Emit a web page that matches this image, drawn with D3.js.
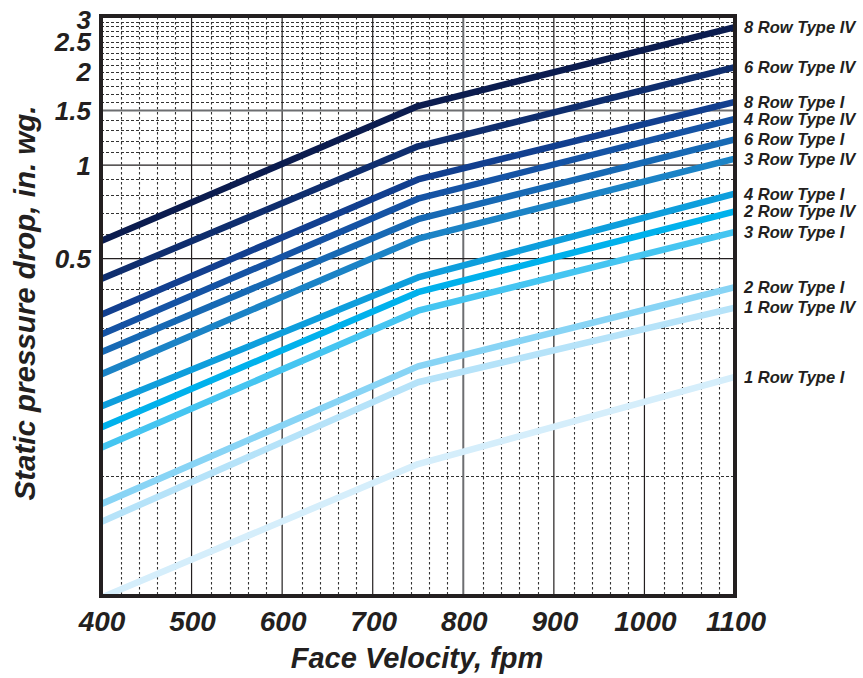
<!DOCTYPE html>
<html>
<head>
<meta charset="utf-8">
<script src="https://cdn.jsdelivr.net/npm/d3@7"></script>
<style>
  html, body { margin: 0; padding: 0; background: #ffffff; }
  svg text { font-family: "Liberation Sans", Arial, sans-serif; font-weight: bold; font-style: italic; fill: #231f20; }
</style>
</head>
<body>
<svg id="chart" width="863" height="678"></svg>
<script>
// Face velocities where each coil curve is defined (fpm)
const velocities = [400, 750, 1100];

// Coil names, top to bottom
const seriesNames = [
  "8 Row Type IV", "6 Row Type IV", "8 Row Type I", "4 Row Type IV",
  "6 Row Type I", "3 Row Type IV", "4 Row Type I", "2 Row Type IV",
  "3 Row Type I", "2 Row Type I", "1 Row Type IV", "1 Row Type I"
];

// Static pressure drop (in. wg.) at 400, 750 and 1100 fpm
const row8TypeIV = [0.57, 1.55, 2.78];
const row6TypeIV = [0.43, 1.15, 2.07];
const row8TypeI  = [0.33, 0.90, 1.60];
const row4TypeIV = [0.285, 0.78, 1.41];
const row6TypeI  = [0.25, 0.67, 1.21];
const row3TypeIV = [0.212, 0.58, 1.05];
const row4TypeI  = [0.167, 0.435, 0.81];
const row2TypeIV = [0.143, 0.39, 0.71];
const row3TypeI  = [0.123, 0.34, 0.61];
const row2TypeI  = [0.081, 0.225, 0.405];
const row1TypeIV = [0.071, 0.20, 0.348];
const row1TypeI  = [0.0405, 0.109, 0.208];

const seriesValues = [
  row8TypeIV, row6TypeIV, row8TypeI, row4TypeIV, row6TypeI, row3TypeIV,
  row4TypeI, row2TypeIV, row3TypeI, row2TypeI, row1TypeIV, row1TypeI
];

const seriesColors = [
  "#0b1c4f", "#0f2e6e", "#123f8f", "#1553a4", "#1769b4", "#1b83c6",
  "#0e9edc", "#00b1ec", "#45c5f1", "#88d4f5", "#b6e3f9", "#d5eefb"
];

// Axis ticks
const xTicks = [400, 500, 600, 700, 800, 900, 1000, 1100];
const yTickLabels = [0.5, 1, 1.5, 2, 2.5, 3];
const yMajorGrid = [0.5, 1, 1.5];
const yMinorGrid = [0.1, 0.3, 0.4, 0.6, 0.7, 0.8, 0.9, 1.1, 1.2, 1.3, 1.4,
  1.6, 1.7, 1.8, 1.9, 2.0, 2.1, 2.2, 2.3, 2.4, 2.5, 2.6, 2.7, 2.8, 2.9];
const xMajorGrid = [500, 600, 700, 800, 900, 1000];
const xMinorOffsets = [22, 42, 62, 82];

const svg = d3.select("#chart");
const plotLeft = 101, plotRight = 735, plotTop = 17, plotBottom = 596;

const x = d3.scaleLinear().domain([400, 1100]).range([plotLeft, plotRight]);
const y = d3.scaleLog().domain([0.041, 3]).range([plotBottom, plotTop]);

// Minor vertical grid
const xMinor = [];
for (let h = 400; h < 1100; h += 100) xMinorOffsets.forEach(o => xMinor.push(h + o));

const grid = svg.append("g");
grid.selectAll("line.xminor").data(xMinor).join("line")
  .attr("x1", d => Math.round(x(d)) + 0.5).attr("x2", d => Math.round(x(d)) + 0.5)
  .attr("y1", plotTop).attr("y2", plotBottom)
  .attr("stroke", "#333333").attr("stroke-width", 1.1)
  .attr("stroke-dasharray", "2.5,2.5");

grid.selectAll("line.yminor").data(yMinorGrid).join("line")
  .attr("x1", plotLeft).attr("x2", plotRight)
  .attr("y1", d => Math.round(y(d)) + 0.5).attr("y2", d => Math.round(y(d)) + 0.5)
  .attr("stroke", "#333333").attr("stroke-width", 1.1)
  .attr("stroke-dasharray", "3,2");

grid.selectAll("line.xmajor").data(xMajorGrid).join("line")
  .attr("x1", d => x(d)).attr("x2", d => x(d))
  .attr("y1", plotTop).attr("y2", plotBottom)
  .attr("stroke", d => d === 800 ? "#6d6e71" : "#231f20")
  .attr("stroke-width", d => d === 800 ? 2 : 1.2);

grid.selectAll("line.ymajor").data(yMajorGrid).join("line")
  .attr("x1", plotLeft).attr("x2", plotRight)
  .attr("y1", d => y(d)).attr("y2", d => y(d))
  .attr("stroke", d => d === 1.5 ? "#6d6e71" : "#231f20")
  .attr("stroke-width", d => d === 1.5 ? 2 : 1.2);

// Clip curves to plot frame
svg.append("clipPath").attr("id", "plotClip")
  .append("rect").attr("x", plotLeft).attr("y", plotTop)
  .attr("width", plotRight - plotLeft).attr("height", plotBottom - plotTop);

const line = d3.line()
  .x((d, i) => x(velocities[i]))
  .y(d => y(d));

svg.append("g").attr("clip-path", "url(#plotClip)")
  .selectAll("path").data(seriesValues).join("path")
  .attr("d", d => line(d))
  .attr("fill", "none")
  .attr("stroke", (d, i) => seriesColors[i])
  .attr("stroke-width", 6.5)
  .attr("stroke-linejoin", "round");

// Frame
svg.append("rect")
  .attr("x", plotLeft).attr("y", plotTop - 1)
  .attr("width", plotRight - plotLeft).attr("height", plotBottom - plotTop + 1)
  .attr("fill", "none").attr("stroke", "#231f20").attr("stroke-width", 4);

// Series labels at the right end of each curve
svg.append("g").selectAll("text").data(seriesNames).join("text")
  .attr("x", plotRight + 9)
  .attr("y", (d, i) => y(seriesValues[i][2]))
  .attr("dy", "0.36em")
  .attr("font-size", 16.5)
  .text(d => d);

// X tick labels
svg.append("g").selectAll("text").data(xTicks).join("text")
  .attr("x", d => x(d) + 1).attr("y", 631)
  .attr("text-anchor", "middle")
  .attr("font-size", 28)
  .text(d => d);

// Y tick labels
svg.append("g").selectAll("text").data(yTickLabels).join("text")
  .attr("x", 91).attr("y", d => y(d) + (d === 3 ? 3 : 0))
  .attr("dy", "0.36em")
  .attr("text-anchor", "end")
  .attr("font-size", 26)
  .text(d => d);

// Axis titles
svg.append("text")
  .attr("x", 417).attr("y", 668)
  .attr("text-anchor", "middle")
  .attr("font-size", 29)
  .text("Face Velocity, fpm");

svg.append("text")
  .attr("transform", "translate(35,303) rotate(-90)")
  .attr("text-anchor", "middle")
  .attr("font-size", 30)
  .attr("textLength", 395)
  .attr("lengthAdjust", "spacingAndGlyphs")
  .text("Static pressure drop, in. wg.");
</script>
</body>
</html>
